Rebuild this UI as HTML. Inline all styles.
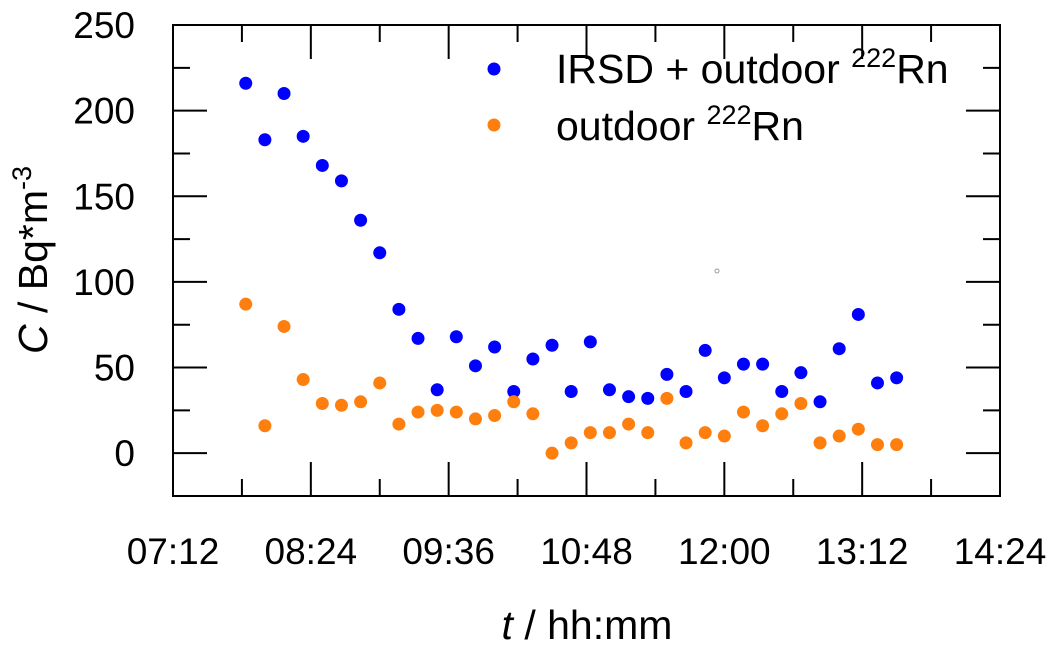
<!DOCTYPE html>
<html><head><meta charset="utf-8"><style>
body{margin:0;background:#fff}
svg{display:block;font-family:"Liberation Sans",sans-serif}
</style></head><body>
<svg id="chart" width="1056" height="648"></svg>
<script>
const times=["07:50","08:00","08:10","08:20","08:30","08:40","08:50","09:00","09:10","09:20","09:30","09:40","09:50","10:00","10:10","10:20","10:30","10:40","10:50","11:00","11:10","11:20","11:30","11:40","11:50","12:00","12:10","12:20","12:30","12:40","12:50","13:00","13:10","13:20","13:30"];
const irsd=[216,183,210,185,168,159,136,117,84,67,37,68,51,62,36,55,63,36,65,37,33,32,46,36,60,44,52,52,36,47,30,61,81,41,44];
const outdoor=[87,16,74,43,29,28,30,41,17,24,25,24,20,22,30,23,0,6,12,12,17,12,32,6,12,10,24,16,23,29,6,10,14,5,5];
const yTicks=[0,50,100,150,200,250];
const xTicks=["07:12","08:24","09:36","10:48","12:00","13:12","14:24"];
const NS="http://www.w3.org/2000/svg";
const svg=document.getElementById('chart');
const L=173,R=1000,T=25,B=496,yMin=-25,yMax=250,xMin=432,xMax=864;
const toMin=s=>{const p=s.split(':');return +p[0]*60+ +p[1];};
const xs=m=>L+(m-xMin)/(xMax-xMin)*(R-L);
const ys=v=>B-(v-yMin)/(yMax-yMin)*(B-T);
function mk(tag,attrs,txt){const e=document.createElementNS(NS,tag);for(const k in attrs)e.setAttribute(k,attrs[k]);if(txt!==undefined)e.textContent=txt;svg.appendChild(e);return e;}
for(let v=yMin;v<=yMax;v+=25){const maj=v%50===0;const len=maj?34:17;const y=ys(v);
 mk('line',{x1:L,y1:y,x2:L+len,y2:y,stroke:'#000','stroke-width':2});
 mk('line',{x1:R,y1:y,x2:R-len,y2:y,stroke:'#000','stroke-width':2});}
for(let m=xMin;m<=xMax;m+=36){const maj=(m-xMin)%72===0;const len=maj?34:17;const x=xs(m);
 mk('line',{x1:x,y1:B,x2:x,y2:B-len,stroke:'#000','stroke-width':2});
 mk('line',{x1:x,y1:T,x2:x,y2:T+len,stroke:'#000','stroke-width':2});}
const frame=mk('rect',{x:L,y:T,width:R-L,height:B-T,fill:'none',stroke:'#000','stroke-width':2});

yTicks.forEach(v=>{const t=mk('text',{x:L-38,y:ys(v)+13,'text-anchor':'end','font-size':37},v);
 
 });
xTicks.forEach(s=>{const t=mk('text',{x:xs(toMin(s)),y:564,'text-anchor':'middle','font-size':37},s);
 
 });
times.forEach((s,i)=>{const c=mk('circle',{cx:xs(toMin(s)),cy:ys(irsd[i]),r:6.5,fill:'#0000ff'});
 
 });
times.forEach((s,i)=>{const c=mk('circle',{cx:xs(toMin(s)),cy:ys(outdoor[i]),r:6.5,fill:'#ff7f0e'});
 
 });
mk('circle',{cx:717,cy:271,r:2,fill:'none',stroke:'#999','stroke-width':1});
</script>
<svg style="position:absolute;left:0;top:0" width="1056" height="648">
<g font-family="Liberation Sans, sans-serif" font-size="41">
<circle cx="494" cy="69" r="6.5" fill="#0000ff"/>
<text x="556" y="83">IRSD + outdoor <tspan font-size="27" dy="-16">222</tspan><tspan dy="16">Rn</tspan></text>
<circle cx="494" cy="125" r="6.5" fill="#ff7f0e"/>
<text x="556" y="140">outdoor <tspan font-size="27" dy="-16">222</tspan><tspan dy="16">Rn</tspan></text>
<text x="587" y="639" text-anchor="middle"><tspan font-style="italic">t</tspan> / hh:mm</text>
<text transform="translate(47,260) rotate(-90)" text-anchor="middle"><tspan font-style="italic">C</tspan> / Bq*m<tspan font-size="27" dy="-16">-3</tspan></text>
</g></svg>
</body></html>
